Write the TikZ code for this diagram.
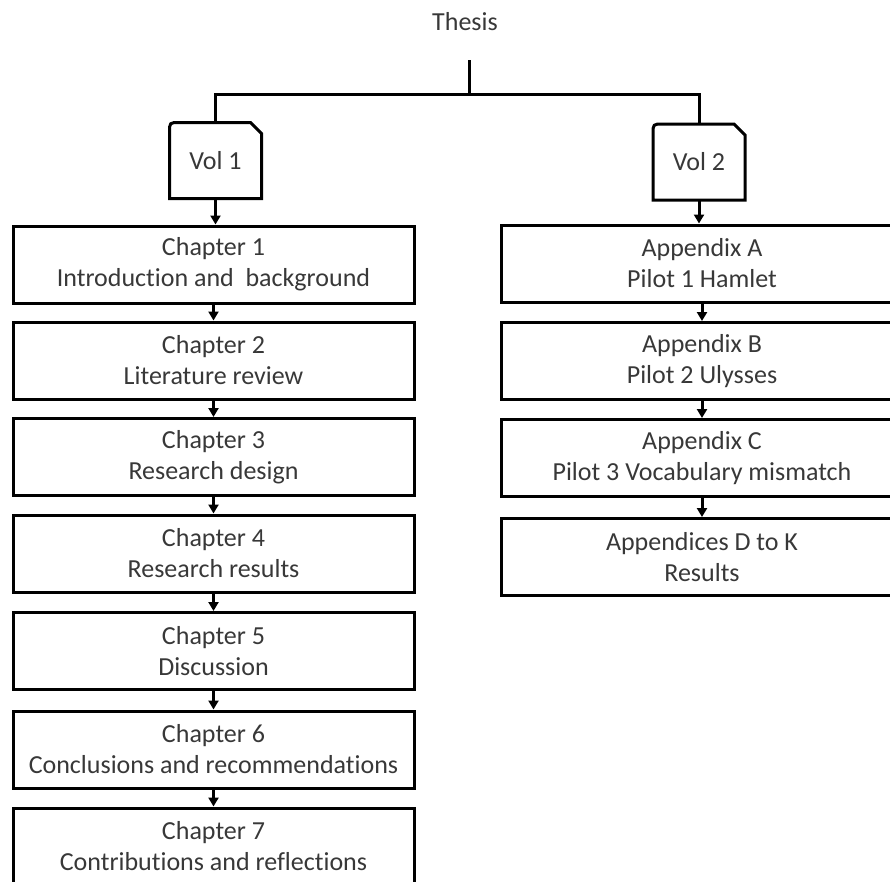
\documentclass[tikz,border=0pt]{standalone}
\usepackage{fontspec}
\setmainfont{Carlito}[Ligatures=NoCommon]
\usetikzlibrary{arrows.meta}
\definecolor{txt}{HTML}{383838}
\begin{document}
\begin{tikzpicture}[x=1pt,y=-1pt,
  line width=3pt,
  every node/.style={font=\fontsize{26}{31}\selectfont, text=txt, align=center, inner sep=0pt},
  chbox/.style={draw=black, minimum width=401pt, minimum height=77pt},
  volbox/.style={minimum width=89pt, minimum height=73pt},
  link/.style={-{Triangle[width=10pt,length=9pt]}, line width=3pt}
]
\useasboundingbox (0,0) rectangle (890,881);
\clip (0,0) rectangle (890,881);

% title and volume split
\node (thesis) at (465,22) {Thesis};
\coordinate (stem) at (469,60);
\coordinate (split) at (469,94);

\node[volbox] (vol1) at (215.5,160.5) {Vol 1};
\node[volbox] (vol2) at (699,162) {Vol 2};

% volume tabs: rounded top-left corner, clipped top-right corner
\foreach \v in {vol1,vol2}{
  \draw[line join=miter]
    (\v.south west) -- ([yshift=-10pt]\v.north west)
    .. controls (\v.north west) .. ([xshift=10pt]\v.north west)
    -- ([xshift=-11pt]\v.north east) -- ([yshift=-11pt]\v.north east)
    -- (\v.south east) -- cycle;
}

% volume 1 chapters
\node[chbox] (c1) at (213.5,264.5) {Chapter 1\\Introduction and\ \ background};
\node[chbox] (c2) at (213.5,360.5) {Chapter 2\\Literature review};
\node[chbox] (c3) at (213.5,457) {Chapter 3\\Research design};
\node[chbox] (c4) at (213.5,553.5) {Chapter 4\\Research results};
\node[chbox] (c5) at (213.5,651) {Chapter 5\\Discussion};
\node[chbox] (c6) at (213.5,749.5) {Chapter 6\\Conclusions and recommendations};
\node[chbox] (c7) at (213.5,846.5) {Chapter 7\\Contributions and reflections};

% volume 2 appendices
\node[chbox] (a1) at (702,263.5) {Appendix A\\Pilot 1 Hamlet};
\node[chbox] (a2) at (702,361) {Appendix B\\Pilot 2 Ulysses};
\node[chbox] (a3) at (702,458) {Appendix C\\Pilot 3 Vocabulary mismatch};
\node[chbox] (a4) at (702,557) {Appendices D to K\\Results};

% connectors
\draw (stem) -- (split);
\draw (vol1.north) |- (split) -| (vol2.north);
\draw[link] (vol1.south) -- (vol1.south |- c1.north);
\draw[link] (vol2.south) -- (vol2.south |- a1.north);
\foreach \a/\b in {c1/c2,c2/c3,c3/c4,c4/c5,c5/c6,c6/c7,a1/a2,a2/a3,a3/a4}
  \draw[link] (\a.south) -- (\b.north);
\end{tikzpicture}
\end{document}
